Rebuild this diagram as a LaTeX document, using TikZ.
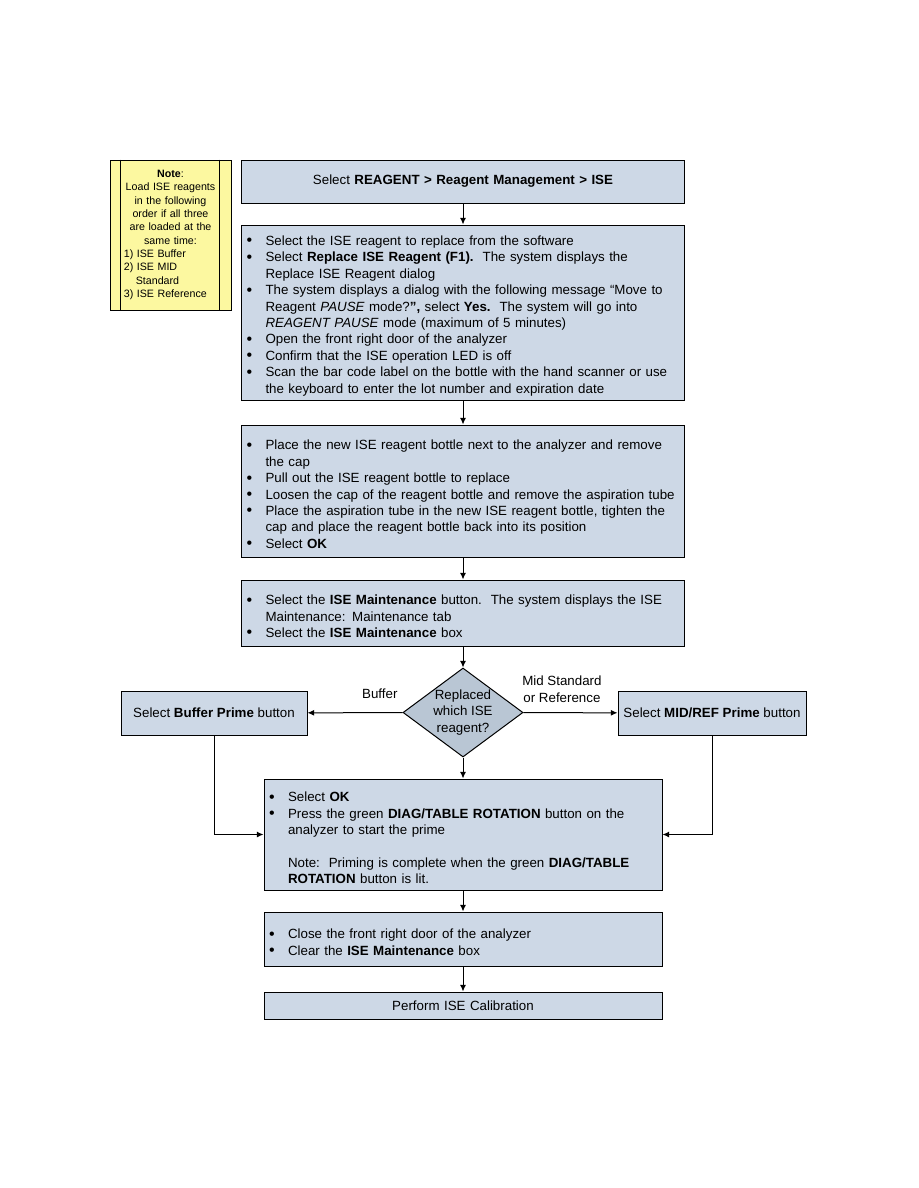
\documentclass[tikz,border=0pt]{standalone}
\usepackage{fontspec}
\setmainfont{Liberation Sans}
\usetikzlibrary{shapes.geometric,arrows.meta}
\definecolor{boxfill}{HTML}{CDD8E6}
\definecolor{decfill}{HTML}{B9C6D4}
\definecolor{notefill}{HTML}{FCF8A0}
\newcommand{\bitem}[1]{\par\noindent\hangindent=14.25pt\hangafter=1\hbox to 14.25pt{\raisebox{-0.3pt}{\fontsize{12}{12}\selectfont\textbullet}\hss}#1}
\newcommand{\bnote}[1]{\par\noindent\hangindent=14.25pt\hangafter=0 #1}
\begin{document}
\begin{tikzpicture}[x=0.75pt, y=-0.75pt, line width=0.75pt, >={Latex[length=5pt,width=4.5pt]},
  font=\fontsize{10}{12.3}\selectfont,
  stepbox/.style={draw, fill=boxfill, inner xsep=3.75pt, inner ysep=0pt, text width=324.75pt, align=left},
  shortbox/.style={stepbox, text width=291pt},
  sidebox/.style={draw, fill=boxfill, minimum height=33pt, align=center}]
\useasboundingbox (0,0) rectangle (918,1188);
\node[stepbox, align=center, minimum height=32.25pt] (select) at (463,181.5) {Select \textbf{REAGENT > Reagent Management > ISE}};
\node[stepbox, minimum height=131.25pt] (replace) at (463,312.5) {%
\bitem{Select the ISE reagent to replace from the software}
\bitem{Select \textbf{Replace ISE Reagent (F1).}\ \ The system displays the\newline Replace ISE Reagent dialog}
\bitem{The system displays a dialog with the following message “Move to\newline Reagent \textit{PAUSE} mode?\textbf{”,} select \textbf{Yes.}\ \ The system will go into\newline \textit{REAGENT PAUSE} mode (maximum of 5 minutes)}
\bitem{Open the front right door of the analyzer}
\bitem{Confirm that the ISE operation LED is off}
\bitem{Scan the bar code label on the bottle with the hand scanner or use\newline the keyboard to enter the lot number and expiration date}\par};
\node[stepbox, minimum height=99pt] (bottle) at (463,491) {%
\bitem{Place the new ISE reagent bottle next to the analyzer and remove\newline the cap}
\bitem{Pull out the ISE reagent bottle to replace}
\bitem{Loosen the cap of the reagent bottle and remove the aspiration tube}
\bitem{Place the aspiration tube in the new ISE reagent bottle, tighten the\newline cap and place the reagent bottle back into its position}
\bitem{Select \textbf{OK}}\par};
\node[stepbox, minimum height=49.5pt] (maint) at (463,613) {%
\bitem{Select the \textbf{ISE Maintenance} button.\ \ The system displays the ISE\newline Maintenance: Maintenance tab}
\bitem{Select the \textbf{ISE Maintenance} box}\par};
\node[draw, diamond, fill=decfill, minimum width=90pt, minimum height=66.75pt, inner sep=0pt,
  label={[align=center]center:Replaced\\which ISE\\reagent?}] (which) at (463,712.5) {};
\node[sidebox, minimum width=139.5pt] (buffer) at (214,713) {Select \textbf{Buffer Prime} button};
\node[sidebox, minimum width=141pt] (midref) at (712,713) {Select \textbf{MID/REF Prime} button};
\node[shortbox, minimum height=83.25pt] (prime) at (463,834.5) {%
\bitem{Select \textbf{OK}}
\bitem{Press the green \textbf{DIAG/TABLE ROTATION} button on the\newline analyzer to start the prime}
\par\mbox{}
\bnote{Note:\ \ Priming is complete when the green \textbf{DIAG/TABLE}\newline \textbf{ROTATION} button is lit.}\par};
\node[shortbox, minimum height=40.5pt] (close) at (463,939) {%
\bitem{Close the front right door of the analyzer}
\bitem{Clear the \textbf{ISE Maintenance} box}\par};
\node[shortbox, align=center, minimum height=20.25pt] (calib) at (463,1005.5) {Perform ISE Calibration};
% note beside the chart
\node[draw, fill=notefill, minimum width=90.75pt, minimum height=112.5pt, text width=70pt, inner sep=0pt,
  align=center, font=\fontsize{8}{10}\selectfont] (note) at (170.5,235) {\textbf{Note}:\\Load ISE reagents\\in the following\\order if all three\\are loaded at the\\same time:\\\makebox[70pt][l]{1) ISE Buffer}\\\makebox[70pt][l]{2) ISE MID}\\\makebox[70pt][l]{\hspace*{9pt}Standard}\\\makebox[70pt][l]{3) ISE Reference}};
\draw ([xshift=8.25pt]note.north west) -- ([xshift=8.25pt]note.south west);
\draw ([xshift=-9pt]note.north east) -- ([xshift=-9pt]note.south east);
\draw[->] (select) -- (replace);
\draw[->] (replace) -- (bottle);
\draw[->] (bottle) -- (maint);
\draw[->] (maint) -- (which);
\draw[->] (which) -- node[above=7pt, pos=0.24] {Buffer} (buffer);
\draw[->] (which) -- node[above=4pt, pos=0.41, align=center] {Mid Standard\\or Reference} (midref);
\draw[->] (which) -- (prime);
\draw[->] (buffer) |- (prime);
\draw[->] (midref) |- (prime);
\draw[->] (prime) -- (close);
\draw[->] (close) -- (calib);
\end{tikzpicture}
\end{document}
